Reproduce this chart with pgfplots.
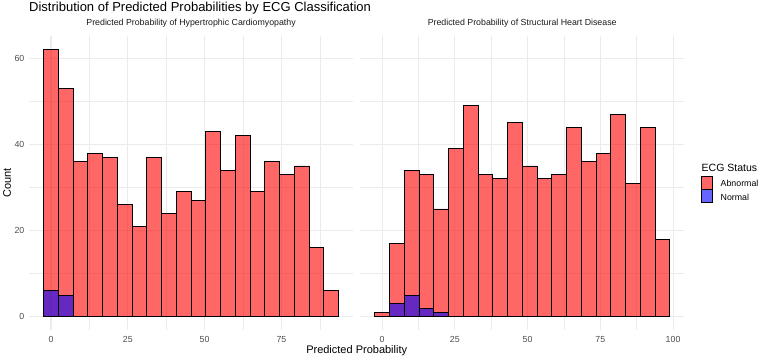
\documentclass[border=0pt]{standalone}
\usepackage{pgfplots}
\pgfplotsset{compat=1.18}
\usepackage{fontspec}
\setmainfont{Liberation Sans}
\definecolor{grid92}{HTML}{EBEBEB}
\definecolor{grey30}{HTML}{4D4D4D}
\definecolor{grey10}{HTML}{1A1A1A}
\definecolor{abn}{HTML}{FF0000}
\definecolor{nrm}{HTML}{0000FF}
\newcommand{\fs}[1]{\fontsize{#1bp}{#1bp}\selectfont}

\pgfplotsset{panel/.style={
  scale only axis, width=324.4bp, height=293.7bp,
  ymin=-3.1, ymax=65.1,
  ytick={0,20,40,60}, minor ytick={10,30,50},
  grid=both,
  major grid style={draw=grid92, line width=1.07bp},
  minor grid style={draw=grid92, line width=0.53bp},
  axis line style={draw=none},
  major tick length=0pt, minor tick length=0pt,
  tick label style={font=\fs{8.8}, text=grey30},
  /pgf/number format/assume math mode=true,
  xticklabel style={anchor=north, inner sep=0pt, yshift=-6bp},
  yticklabel style={anchor=east, inner sep=0pt, xshift=-4.4bp},
  title style={font=\fs{8.8}, text=grey10, at={(0.5,1)}, anchor=base, inner sep=0pt, yshift=4.8bp},
},
abnbar/.style={ybar, bar shift=0pt, fill=abn, fill opacity=0.6, draw=black, line width=0.8bp},
nrmbar/.style={ybar, bar shift=0pt, fill=nrm, fill opacity=0.6, draw=black, line width=0.8bp},
}

\begin{document}
\begin{tikzpicture}
\path[use as bounding box] (0,0) rectangle (760bp,-358bp);

% Left panel
\begin{axis}[panel, at={(28.9bp,-36.3bp)}, anchor=north west,
  xmin=-7.2, xmax=98.4,
  xtick={0,25,50,75}, minor xtick={12.5,37.5,62.5,87.5},
  title={Predicted Probability of Hypertrophic Cardiomyopathy}]
\addplot[abnbar, bar width=4.8] coordinates {
 (0,62) (4.8,53) (9.6,36) (14.4,38) (19.2,37) (24,26) (28.8,21) (33.6,37)
 (38.4,24) (43.2,29) (48,27) (52.8,43) (57.6,34) (62.4,42) (67.2,29) (72,36)
 (76.8,33) (81.6,35) (86.4,16) (91.2,6)};
\addplot[nrmbar, bar width=4.8] coordinates {(0,6) (4.8,5)};
\end{axis}

% Right panel
\begin{axis}[panel, at={(360bp,-36.3bp)}, anchor=north west,
  xmin=-7.6, xmax=103.9,
  xtick={0,25,50,75,100}, minor xtick={12.5,37.5,62.5,87.5},
  yticklabels={},
  title={Predicted Probability of Structural Heart Disease}]
\addplot[abnbar, bar width=5.07] coordinates {
 (0,1) (5.07,17) (10.14,34) (15.21,33) (20.28,25) (25.35,39) (30.42,49) (35.49,33)
 (40.56,32) (45.63,45) (50.7,35) (55.77,32) (60.84,33) (65.91,44) (70.98,36) (76.05,38)
 (81.12,47) (86.19,31) (91.26,44) (96.33,18)};
\addplot[nrmbar, bar width=5.07] coordinates {(5.07,3) (10.14,5) (15.21,2) (20.28,1)};
\end{axis}

% Titles and axis labels
\node[anchor=base west, inner sep=0pt, font=\fs{13}] at (29bp,-11.5bp)
  {Distribution of Predicted Probabilities by ECG Classification};
\node[rotate=90, inner sep=0pt, font=\fs{11}] at (7bp,-183bp) {Count};
\node[inner sep=0pt, font=\fs{11}] at (356.7bp,-350.7bp) {Predicted Probability};

% Legend
\node[anchor=west, inner sep=0pt, font=\fs{10.5}] at (701.5bp,-167.5bp) {ECG Status};
\fill[abn, fill opacity=0.6] (701.7bp,-176.5bp) rectangle (712.7bp,-189.3bp);
\draw[black, line width=0.5bp] (701.7bp,-176.5bp) rectangle (712.7bp,-189.3bp);
\fill[nrm, fill opacity=0.6] (701.7bp,-189.3bp) rectangle (712.7bp,-202bp);
\draw[black, line width=0.5bp] (701.7bp,-189.3bp) rectangle (712.7bp,-202bp);
\node[anchor=west, inner sep=0pt, font=\fs{8.8}] at (720.5bp,-183.3bp) {Abnormal};
\node[anchor=west, inner sep=0pt, font=\fs{8.8}] at (720.5bp,-197.5bp) {Normal};
\end{tikzpicture}
\end{document}
